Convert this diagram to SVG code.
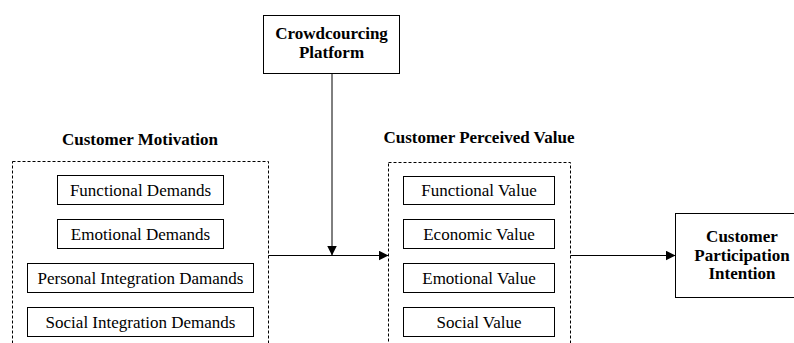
<svg xmlns="http://www.w3.org/2000/svg" width="794" height="343" viewBox="0 0 794 343">
  <style>
    text { fill: #000; text-anchor: middle; }
    .bold { font-weight: bold; }
    .box { fill: #fff; stroke: #000; stroke-width: 1; }
    .group { fill: none; stroke: #000; stroke-width: 1; stroke-dasharray: 3 2; }
    .line { fill: none; stroke: #000; stroke-width: 1; }
  </style>
  <defs>
    <marker id="arrow" markerWidth="10" markerHeight="10" refX="10" refY="5" orient="auto" markerUnits="userSpaceOnUse">
      <path d="M0,0 L10,5 L0,10 Z" fill="#000"/>
    </marker>
  </defs>
  <rect width="794" height="343" fill="#fff"/>

  <g font-family="Liberation Serif, Times New Roman, DejaVu Serif, serif" font-size="17">
  <!-- Platform node -->
  <g id="platform">
    <rect class="box" x="263.5" y="15.5" width="136" height="58"/>
    <text class="bold" x="331.5" y="39">Crowdcourcing</text>
    <text class="bold" x="331.5" y="58">Platform</text>
  </g>

  <!-- Motivation group -->
  <g id="motivation">
    <text class="bold" x="140" y="145">Customer Motivation</text>
    <rect class="group" x="12.5" y="161.5" width="256" height="200"/>
    <rect class="box" x="57.5" y="175.5" width="166" height="29"/>
    <text x="140.5" y="196">Functional Demands</text>
    <rect class="box" x="57.5" y="219.5" width="166" height="29"/>
    <text x="140.5" y="240">Emotional Demands</text>
    <rect class="box" x="27.5" y="263.5" width="226" height="29"/>
    <text x="140.5" y="284">Personal Integration Damands</text>
    <rect class="box" x="27.5" y="307.5" width="226" height="29"/>
    <text x="140.5" y="328">Social Integration Demands</text>
  </g>

  <!-- Perceived value group -->
  <g id="value">
    <text class="bold" x="479" y="143">Customer Perceived Value</text>
    <rect class="group" x="388.5" y="162.5" width="182" height="200"/>
    <rect class="box" x="403.5" y="176.5" width="151" height="28"/>
    <text x="479" y="196">Functional Value</text>
    <rect class="box" x="403.5" y="219.5" width="151" height="29"/>
    <text x="479" y="240">Economic Value</text>
    <rect class="box" x="403.5" y="263.5" width="151" height="29"/>
    <text x="479" y="284">Emotional Value</text>
    <rect class="box" x="403.5" y="307.5" width="151" height="29"/>
    <text x="479" y="328">Social Value</text>
  </g>

  <!-- Intention node -->
  <g id="intention">
    <rect class="box" x="675.5" y="213.5" width="140" height="84"/>
    <text class="bold" x="742" y="242">Customer</text>
    <text class="bold" x="742" y="261">Participation</text>
    <text class="bold" x="742" y="279">Intention</text>
  </g>
  </g>

  <!-- Connectors -->
  <g id="connectors">
    <line class="line" x1="332" y1="73.5" x2="332" y2="255.5" marker-end="url(#arrow)"/>
    <line class="line" x1="268.5" y1="255.5" x2="388.5" y2="255.5" marker-end="url(#arrow)"/>
    <line class="line" x1="570.5" y1="255.5" x2="675.5" y2="255.5" marker-end="url(#arrow)"/>
  </g>
</svg>
